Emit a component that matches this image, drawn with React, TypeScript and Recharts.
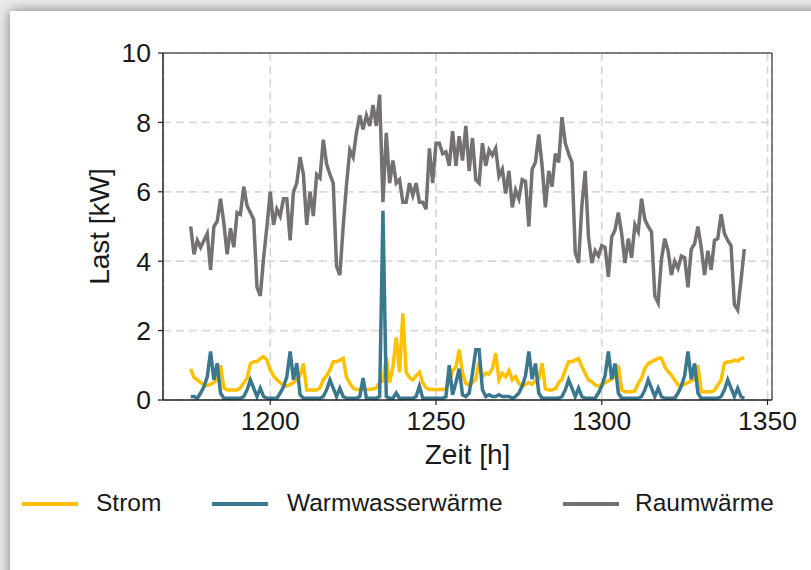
import { LineChart, Line, XAxis, YAxis, CartesianGrid, ReferenceLine } from 'recharts'

// hourly load profile, one week starting at hour 1176 (rows = days)
const START_HOUR = 1176

const strom = [
  0.9, 0.65, 0.58, 0.5, 0.45, 0.42, 0.45, 0.5, 0.6, 1.0, 0.35, 0.29, 0.29, 0.29, 0.29, 0.35, 0.5, 0.62, 1.05, 1.1, 1.1, 1.2, 1.25, 1.15,
  0.87, 0.7, 0.58, 0.5, 0.42, 0.4, 0.45, 0.5, 0.6, 0.7, 1.05, 0.29, 0.29, 0.29, 0.29, 0.35, 0.58, 0.7, 0.87, 1.1, 1.1, 1.15, 1.2, 0.65,
  0.48, 0.34, 0.3, 0.3, 0.3, 0.3, 0.3, 0.32, 0.35, 0.5, 0.55, 1.25, 0.5, 0.95, 1.8, 0.8, 2.5, 0.8, 0.65, 0.58, 0.7, 0.8, 0.5, 0.35,
  0.3, 0.3, 0.3, 0.3, 0.3, 0.32, 0.5, 0.85, 0.95, 1.45, 0.77, 0.48, 0.43, 0.5, 0.6, 1.1, 0.67, 0.77, 0.75, 0.9, 1.35, 0.58, 0.77, 0.67,
  0.85, 0.58, 0.67, 0.48, 0.4, 0.45, 0.5, 0.45, 0.55, 0.6, 1.06, 0.32, 0.29, 0.29, 0.32, 0.5, 0.6, 0.87, 1.1, 1.1, 1.15, 1.2, 0.96, 0.77,
  0.58, 0.53, 0.43, 0.4, 0.45, 0.5, 0.55, 0.6, 0.7, 1.0, 0.29, 0.24, 0.24, 0.24, 0.26, 0.48, 0.63, 0.91, 1.05, 1.1, 1.15, 1.2, 1.2, 0.96,
  0.82, 0.72, 0.58, 0.43, 0.42, 0.45, 0.5, 0.55, 0.6, 1.0, 0.24, 0.24, 0.24, 0.24, 0.28, 0.43, 0.58, 1.06, 1.1, 1.1, 1.15, 1.12, 1.2, 1.2,
]

const warmwasser = [
  0.1, 0.1, 0.05, 0.2, 0.38, 0.67, 1.4, 0.58, 1.06, 0.2, 0.05, 0.05, 0.05, 0.05, 0.05, 0.05, 0.1, 0.29, 0.58, 0.34, 0.1, 0.34, 0.1, 0.05,
  0.05, 0.05, 0.05, 0.2, 0.38, 0.67, 1.4, 0.58, 1.06, 0.15, 0.05, 0.05, 0.05, 0.05, 0.05, 0.05, 0.1, 0.29, 0.58, 0.34, 0.1, 0.34, 0.1, 0.05,
  0.05, 0.05, 0.05, 0.1, 0.63, 0.05, 0.05, 0.05, 0.05, 0.1, 5.45, 0.1, 0.05, 0.05, 0.2, 0.05, 0.05, 0.05, 0.05, 0.05, 0.1, 0.4, 0.05, 0.05,
  0.05, 0.05, 0.05, 0.05, 0.05, 0.1, 1.0, 0.15, 0.5, 0.9, 0.15, 0.1, 0.2, 0.77, 1.45, 1.45, 0.3, 0.1, 0.15, 0.1, 0.1, 0.15, 0.1, 0.1,
  0.1, 0.05, 0.1, 0.2, 0.4, 0.7, 1.4, 0.6, 1.05, 0.2, 0.05, 0.05, 0.05, 0.05, 0.05, 0.05, 0.1, 0.29, 0.58, 0.34, 0.1, 0.34, 0.1, 0.05,
  0.05, 0.05, 0.05, 0.2, 0.4, 0.7, 1.4, 0.6, 1.05, 0.2, 0.05, 0.05, 0.05, 0.05, 0.05, 0.05, 0.1, 0.29, 0.58, 0.34, 0.1, 0.34, 0.1, 0.05,
  0.05, 0.05, 0.05, 0.2, 0.4, 0.7, 1.4, 0.6, 1.05, 0.2, 0.05, 0.05, 0.05, 0.05, 0.05, 0.05, 0.1, 0.29, 0.58, 0.34, 0.1, 0.34, 0.1, 0.05,
]

const raumwaerme = [
  5.0, 4.2, 4.6, 4.4, 4.6, 4.8, 3.75, 5.0, 5.15, 5.8, 5.1, 4.2, 4.95, 4.4, 5.4, 5.35, 6.15, 5.6, 5.4, 5.2, 3.25, 3.0, 4.1, 5.0,
  6.0, 5.05, 5.5, 5.3, 5.8, 5.8, 4.6, 6.0, 6.25, 7.0, 6.5, 5.05, 6.0, 5.3, 6.5, 6.4, 7.5, 6.8, 6.5, 6.25, 3.85, 3.6, 5.0, 6.2,
  7.2, 7.0, 7.7, 8.2, 7.8, 8.2, 7.9, 8.5, 7.9, 8.8, 5.7, 7.7, 6.25, 6.9, 6.25, 6.35, 5.7, 5.7, 6.25, 5.9, 6.25, 5.7, 5.7, 5.5,
  7.25, 6.25, 7.4, 7.4, 7.1, 7.15, 6.75, 7.75, 6.75, 7.6, 6.9, 7.9, 6.6, 7.55, 6.35, 6.25, 7.4, 6.75, 7.2, 7.05, 7.25, 6.45, 6.65, 5.95,
  6.6, 5.55, 6.05, 5.8, 6.35, 6.3, 5.0, 6.65, 6.85, 7.65, 6.75, 5.55, 6.6, 6.15, 7.1, 6.85, 8.15, 7.4, 7.1, 6.85, 4.25, 3.95, 5.6, 6.6,
  4.7, 3.95, 4.3, 4.15, 4.45, 4.4, 3.55, 4.7, 4.9, 5.4, 4.8, 3.95, 4.65, 4.1, 5.05, 4.85, 5.8, 5.2, 5.0, 4.85, 3.0, 2.8, 4.05, 4.65,
  4.3, 3.6, 4.0, 3.8, 4.15, 4.1, 3.25, 4.35, 4.5, 5.0, 4.4, 3.6, 4.3, 3.75, 4.6, 4.65, 5.35, 4.8, 4.6, 4.45, 2.75, 2.6, 3.45, 4.35,
]

const xTicks = [1200, 1250, 1300, 1350]
const yTicks = [0, 2, 4, 6, 8, 10]

const series = [
  { key: 'strom', name: 'Strom', color: '#FFC000' },
  { key: 'warmwasser', name: 'Warmwasserwärme', color: '#3A7890' },
  { key: 'raum', name: 'Raumwärme', color: '#767171' },
]

const data = raumwaerme.map((_, i) => ({
  h: START_HOUR + i,
  strom: strom[i],
  warmwasser: warmwasser[i],
  raum: raumwaerme[i],
}))

// matplotlib style 5% x margin
const span = data[data.length - 1].h - data[0].h
const X_MIN = data[0].h - 0.05 * span
const X_MAX = data[data.length - 1].h + 0.05 * span

const FONT = '"Liberation Sans", Arial, sans-serif'
const tickStyle = { fontSize: 26.5, fontFamily: FONT, fill: '#1a1a1a' }

function YLabel({ viewBox }: { viewBox?: { x: number; y: number; width: number; height: number } }) {
  if (!viewBox) return null
  const x = viewBox.x + 89
  const y = viewBox.y + viewBox.height / 2
  return (
    <text x={x} y={y} transform={`rotate(-90 ${x} ${y})`} textAnchor="middle"
      style={{ fontSize: 28, fontFamily: FONT, fill: '#1a1a1a' }}>
      Last [kW]
    </text>
  )
}

const legendPos = [
  { line: 22, text: 96 },
  { line: 212, text: 287 },
  { line: 563, text: 635 },
]

export default function App() {
  return (
    <div style={{ position: 'absolute', left: 0, top: 0, width: 811, height: 570, overflow: 'hidden', background: '#ececec' }}>
      <div style={{ position: 'absolute', left: 10, top: 11, width: 840, height: 600, background: '#fff', boxShadow: '0 0 12px rgba(0,0,0,0.5)' }} />
      <div style={{ position: 'absolute', left: 0, top: 0 }}>
        <LineChart width={811} height={570} data={data} margin={{ top: 53, right: 39, bottom: 100, left: 20 }}>
          <CartesianGrid stroke="#d9d9d9" strokeWidth={1.8} strokeDasharray="8 5" />
          <XAxis dataKey="h" type="number" domain={[X_MIN, X_MAX]} ticks={xTicks} allowDataOverflow
            height={70} tickSize={5} tickMargin={6} tick={tickStyle}
            axisLine={{ stroke: '#222', strokeWidth: 1.5 }} tickLine={{ stroke: '#222', strokeWidth: 1.2 }}
            label={{ value: 'Zeit [h]', position: 'insideBottom', offset: 6, style: { fontSize: 28, fontFamily: FONT, fill: '#1a1a1a' } }} />
          <YAxis type="number" domain={[0, 10]} ticks={yTicks} allowDataOverflow width={143}
            tickSize={5} tickMargin={7} tick={tickStyle}
            axisLine={{ stroke: '#222', strokeWidth: 1.5 }} tickLine={{ stroke: '#222', strokeWidth: 1.2 }}
            label={<YLabel />} />
          <ReferenceLine y={10} stroke="#5a5a5a" strokeWidth={1.5} />
          <ReferenceLine x={X_MAX} stroke="#5a5a5a" strokeWidth={1.5} />
          {series.map(s => (
            <Line key={s.key} dataKey={s.key} name={s.name} stroke={s.color} strokeWidth={3.5}
              dot={false} activeDot={false} type="linear" isAnimationActive={false} />
          ))}
        </LineChart>
      </div>
      {series.map((s, i) => (
        <div key={s.key}>
          <span style={{ position: 'absolute', left: legendPos[i].line, top: 502, width: 56, height: 4, background: s.color }} />
          <span style={{ position: 'absolute', left: legendPos[i].text, top: 489, fontSize: 24.5, lineHeight: '28px', fontFamily: FONT, color: '#1a1a1a', whiteSpace: 'nowrap' }}>
            {s.name}
          </span>
        </div>
      ))}
    </div>
  )
}
